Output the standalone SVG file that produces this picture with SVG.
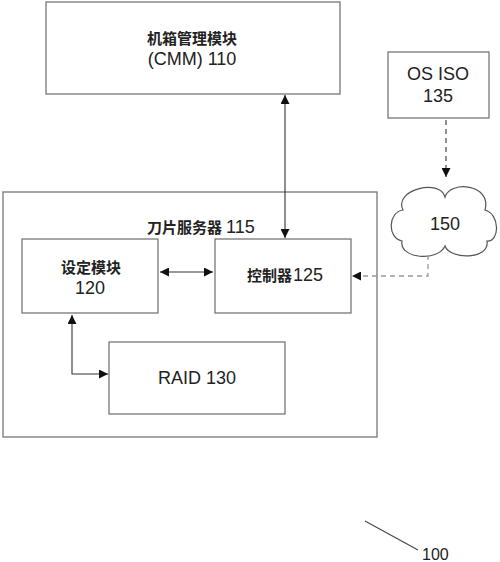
<svg xmlns="http://www.w3.org/2000/svg" width="500" height="562" viewBox="0 0 500 562">
<defs>
<marker id="ah" viewBox="0 0 10 10" refX="10" refY="5" markerWidth="9" markerHeight="9" markerUnits="userSpaceOnUse" orient="auto-start-reverse">
<path d="M0,0 L10,5 L0,10 Z" fill="#111"/>
</marker>
</defs>
<style>
.box{fill:#fff;stroke:#777;stroke-width:1.3}
.en{font-family:"Liberation Sans",Arial,sans-serif;font-size:18px;fill:#222;text-anchor:middle}
.zh{font-family:"Noto Sans CJK SC","Liberation Sans",sans-serif;font-size:15px;font-weight:bold;fill:#222;text-anchor:middle}
.ln{fill:none;stroke:#333;stroke-width:1.1}
.dash{fill:none;stroke:#777;stroke-width:1.3;stroke-dasharray:5,4}
</style>
<rect width="500" height="562" fill="#fff"/>
<g id="blade">
<rect class="box" x="3" y="192" width="374" height="245"/>
<text x="202" y="233"><tspan class="zh" style="text-anchor:start" x="147">刀片服务器</tspan><tspan class="en" style="text-anchor:start" dx="4">115</tspan></text>
</g>
<g id="cmm">
<rect class="box" x="46" y="2" width="294" height="92"/>
<text class="zh" x="192" y="44">机箱管理模块</text>
<text class="en" x="192" y="65">(CMM) 110</text>
</g>
<g id="osiso">
<rect class="box" x="388" y="52" width="101" height="66"/>
<text class="en" x="438" y="80">OS ISO</text>
<text class="en" x="438" y="102">135</text>
</g>
<g id="cloud">
<path d="M403,210 C393,190 440,178 445,197 C450,180 492,184 485,210 C500,214 500,242 487,241 C490,260 450,260 445,246 C438,262 399,259 402,241 C387,238 388,212 403,210 Z" fill="#fff" stroke="#555" stroke-width="1.2"/>
<text class="en" x="445" y="230">150</text>
</g>
<g id="setup">
<rect class="box" x="22" y="239" width="136" height="74"/>
<text class="zh" x="91" y="273">设定模块</text>
<text class="en" x="90" y="294">120</text>
</g>
<g id="controller">
<rect class="box" x="215" y="239" width="136" height="74"/>
<text x="286" y="281"><tspan class="zh" style="text-anchor:start" x="247">控制器</tspan><tspan class="en" style="text-anchor:start" dx="1">125</tspan></text>
</g>
<g id="raid">
<rect class="box" x="109" y="342" width="176" height="72"/>
<text class="en" x="197" y="384">RAID 130</text>
</g>
<g id="connectors">
<line class="ln" x1="285" y1="95" x2="285" y2="238" marker-start="url(#ah)" marker-end="url(#ah)"/>
<line class="ln" x1="160" y1="272" x2="213" y2="272" marker-start="url(#ah)" marker-end="url(#ah)"/>
<polyline class="ln" points="72,315 72,374 108,374" marker-start="url(#ah)" marker-end="url(#ah)"/>
<line class="dash" x1="446" y1="120" x2="446" y2="177" marker-end="url(#ah)" style="stroke:#555"/>
<polyline class="dash" points="428,255 428,276 352,276" marker-end="url(#ah)" style="stroke:#999"/>
<line class="ln" x1="365" y1="521" x2="418" y2="550" style="stroke:#444"/>
</g>
<text x="422" y="560" style="font-family:'Liberation Sans',Arial,sans-serif;font-size:16px;fill:#222">100</text>
</svg>
